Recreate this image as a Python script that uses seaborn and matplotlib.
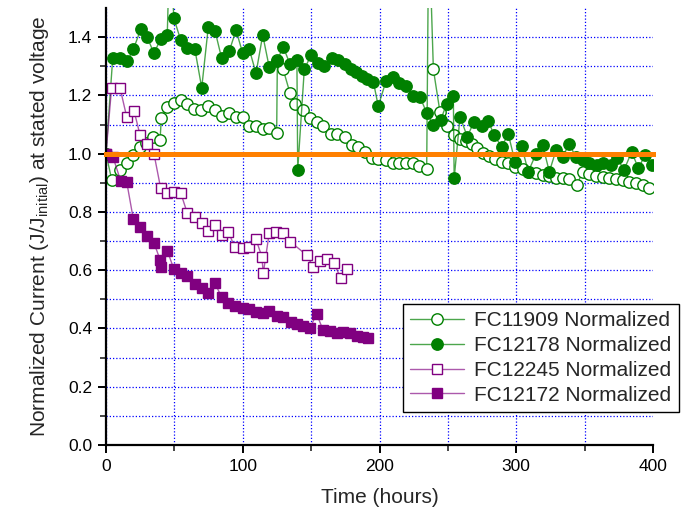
import matplotlib
matplotlib.use("Agg")
import matplotlib.pyplot as plt
import matplotlib.ticker as mticker
import seaborn as sns

# Elapsed time (hours) and current normalised to its initial value
fc11909_t = [0, 4.2, 10, 15, 20, 24.5, 29.5, 34.6, 39.5, 40.5, 44.6, 49.7, 54.6, 59, 64.4,
             69.5, 74.4, 79.7, 84.6, 90, 95, 100, 104.6, 109.7, 114.6, 119, 124.8, 125.3,
             129.5, 134.6, 138.2, 144.3, 149.2, 154, 158.9, 164.3, 169.1, 174.8, 179.7,
             184.5, 189.4, 194.3, 199.1, 204.8, 209.6, 214.5, 219.4, 224.2, 229.1, 234.5,
             236, 239.4, 244.2, 249.1, 254.2, 259, 263.5, 267.5, 271, 275.5, 280.3, 284.5,
             289.3, 294.2, 299.1, 304.7, 309.6, 314.4, 319.3, 324.2, 329.1, 333.9, 338.8,
             344.2, 348.6, 353.4, 358.3, 363.2, 368, 372.9, 377.8, 382.7, 387.6, 392.5, 397.3]
fc11909_v = [1.0, 0.91, 0.944, 0.967, 0.995, 1.024, 1.035, 1.056, 1.047, 1.123, 1.16, 1.175,
             1.185, 1.17, 1.155, 1.15, 1.163, 1.15, 1.13, 1.14, 1.127, 1.127, 1.095, 1.095,
             1.084, 1.088, 1.07, 1.32, 1.29, 1.207, 1.17, 1.15, 1.124, 1.11, 1.095, 1.067,
             1.067, 1.056, 1.03, 1.022, 1.006, 0.984, 0.98, 0.978, 0.969, 0.967, 0.967, 0.967,
             0.957, 0.946, 1.8, 1.289, 1.144, 1.095, 1.064, 1.05, 1.042, 1.032, 1.018, 1.003,
             0.992, 0.98, 0.972, 0.967, 0.955, 0.946, 0.938, 0.935, 0.927, 0.923, 0.915, 0.915,
             0.912, 0.892, 0.938, 0.93, 0.923, 0.919, 0.915, 0.912, 0.909, 0.904, 0.898,
             0.892, 0.881]

fc12178_t = [0, 4.9, 10.2, 15.6, 20, 25.4, 30.2, 35.1, 40, 44.8, 46.5, 49.7, 54.6, 59.5, 65,
             70, 74.8, 79.7, 84.6, 90.2, 95.1, 100, 104.8, 109.7, 114.6, 119.4, 124.8, 129.7,
             134.6, 139.6, 140.2, 145, 149.9, 155.3, 159.7, 165, 169.9, 174.8, 178.9, 182.8,
             187, 191, 195.5, 199.1, 204.8, 209.6, 214.5, 219.4, 224.2, 229.6, 234.5, 239.4,
             244.7, 249, 254, 254.6, 258.9, 264.2, 269.1, 274.7, 279.6, 283.7, 289.3, 294.2,
             299.1, 303.9, 308.8, 314.4, 319.3, 324.2, 329.1, 333.9, 338.8, 343.7, 348.6,
             353.4, 358.8, 363.6, 369, 373.9, 378.8, 384.4, 389.3, 394.2, 399]
fc12178_v = [1.0, 1.327, 1.33, 1.319, 1.358, 1.427, 1.399, 1.344, 1.395, 1.409, 1.7, 1.464,
             1.39, 1.361, 1.358, 1.226, 1.435, 1.422, 1.327, 1.353, 1.424, 1.344, 1.358, 1.276,
             1.407, 1.296, 1.319, 1.365, 1.307, 1.321, 0.944, 1.289, 1.338, 1.312, 1.301, 1.33,
             1.321, 1.307, 1.292, 1.281, 1.266, 1.255, 1.247, 1.163, 1.25, 1.262, 1.243, 1.232,
             1.198, 1.195, 1.14, 1.098, 1.115, 1.17, 1.198, 0.915, 1.127, 1.058, 1.11, 1.095,
             1.113, 1.064, 1.024, 1.067, 0.972, 1.026, 0.938, 0.999, 1.03, 0.938, 1.012, 0.99,
             1.033, 0.987, 0.978, 0.967, 0.961, 0.967, 0.961, 0.984, 0.944, 1.006, 0.95, 0.995,
             0.961]

fc12245_t = [0, 4.1, 10.2, 15.1, 20.5, 24.9, 30.2, 35.1, 40, 44.8, 49.7, 54.6, 59.5, 65, 70,
             74.8, 79.7, 84.6, 89.4, 94.3, 99.9, 104.8, 109.7, 114, 115, 119.4, 124.3, 129.7,
             134.6, 146.8, 151.6, 156.5, 161.8, 166.7, 171.6, 176.5]
fc12245_v = [1.0, 1.227, 1.227, 1.127, 1.147, 1.064, 1.033, 0.999, 0.881, 0.864, 0.869, 0.866,
             0.795, 0.784, 0.761, 0.736, 0.755, 0.721, 0.732, 0.678, 0.675, 0.678, 0.706, 0.646,
             0.589, 0.729, 0.732, 0.726, 0.698, 0.652, 0.61, 0.632, 0.637, 0.626, 0.572, 0.603]

fc12172_t = [0, 5, 10.7, 15.1, 20, 24.9, 30.2, 35.1, 39.6, 40.4, 44.8, 49.7, 54.6, 59.5, 65,
             70, 74.8, 79.7, 84.6, 89.4, 94.3, 99.9, 104.8, 109.7, 114.6, 119.4, 124.8, 129.7,
             135, 139.9, 144, 149, 154, 158.7, 163.8, 168.9, 173.3, 178.4, 183.5, 188, 191.6]
fc12172_v = [1.0, 0.99, 0.907, 0.904, 0.775, 0.747, 0.717, 0.694, 0.635, 0.612, 0.667, 0.603,
             0.592, 0.58, 0.553, 0.538, 0.523, 0.555, 0.507, 0.488, 0.477, 0.469, 0.466, 0.457,
             0.454, 0.461, 0.443, 0.438, 0.423, 0.415, 0.408, 0.40, 0.45, 0.395, 0.391, 0.384,
             0.388, 0.384, 0.374, 0.37, 0.367]

reference_t = [0, 400]
reference_v = [1.0, 1.0]

GREEN = "#008000"
PURPLE = "#800080"

sns.set_style("white")
plt.rcParams["font.family"] = ["Liberation Sans", "DejaVu Sans"]
plt.rcParams["mathtext.fontset"] = "custom"
plt.rcParams["mathtext.rm"] = "Liberation Sans"
plt.rcParams["mathtext.it"] = "Liberation Sans"

fig = plt.figure(figsize=(6.81, 5.13), dpi=100)
ax = fig.add_axes([106 / 681, 1 - 445 / 513, (653 - 106) / 681, (445 - 8) / 513])

series = [
    ("FC11909 Normalized", fc11909_t, fc11909_v, GREEN, "o", "white"),
    ("FC12178 Normalized", fc12178_t, fc12178_v, GREEN, "o", GREEN),
    ("FC12245 Normalized", fc12245_t, fc12245_v, PURPLE, "s", "white"),
    ("FC12172 Normalized", fc12172_t, fc12172_v, PURPLE, "s", PURPLE),
]
line_tints = {GREEN: (0.0, 0.5, 0.0, 0.7), PURPLE: (0.5, 0.0, 0.5, 0.65)}

for label, t, v, col, mk, face in series:
    sns.lineplot(x=t, y=v, ax=ax, sort=False, estimator=None, color=col, lw=1.0,
                 marker=mk, markersize=8.2 if mk == "o" else 7.6, markerfacecolor=face,
                 markeredgecolor=col, markeredgewidth=1.0, label=label, clip_on=True)
    ax.lines[-1].set_color(line_tints[col])

sns.lineplot(x=reference_t, y=reference_v, ax=ax, color="#FF8000", lw=3.6,
             estimator=None, zorder=10, solid_capstyle="projecting", clip_on=False)

ax.set_xlim(0, 400)
ax.set_ylim(0, 1.5)
ax.xaxis.set_major_locator(mticker.FixedLocator([0, 100, 200, 300, 400]))
ax.xaxis.set_minor_locator(mticker.FixedLocator([50, 150, 250, 350]))
ax.yaxis.set_major_locator(mticker.FixedLocator([0, 0.2, 0.4, 0.6, 0.8, 1.0, 1.2, 1.4]))
ax.yaxis.set_minor_locator(mticker.FixedLocator([0.1, 0.3, 0.5, 0.7, 0.9, 1.1, 1.3]))
ax.yaxis.set_major_formatter(mticker.FormatStrFormatter("%.1f"))

ax.grid(True, which="both", color="#0000FF", linestyle=(0, (1, 1.6)), linewidth=0.9)
ax.xaxis.get_major_ticks()[-1].gridline.set_visible(False)
ax.set_axisbelow(True)

for side in ("top", "right"):
    ax.spines[side].set_visible(False)
for side in ("left", "bottom"):
    ax.spines[side].set_color("black")
    ax.spines[side].set_linewidth(1.6)

ax.tick_params(which="major", direction="out", length=6, width=1.4, labelsize=12.5,
               colors="black", pad=4, left=True, bottom=True)
ax.tick_params(which="minor", direction="out", length=4, width=1.2, left=True, bottom=True)

ax.set_xlabel("Time (hours)", fontsize=15, labelpad=10)
ax.set_ylabel(r"Normalized Current (J/J$_{\rm initial}$) at stated voltage", fontsize=15,
              labelpad=12)

handles, labels = ax.get_legend_handles_labels()
leg = ax.legend(handles[:4], labels[:4], loc="upper right",
                bbox_to_anchor=(679 / 681, 1 - 304 / 513), bbox_transform=fig.transFigure,
                fontsize=15, frameon=True, fancybox=False, framealpha=1, edgecolor="black",
                handlelength=2.6, handletextpad=0.5, borderpad=0.35, labelspacing=0.28,
                borderaxespad=0)
leg.get_frame().set_linewidth(1.0)
leg.set_zorder(20)

fig.savefig("out.png", dpi=100)
